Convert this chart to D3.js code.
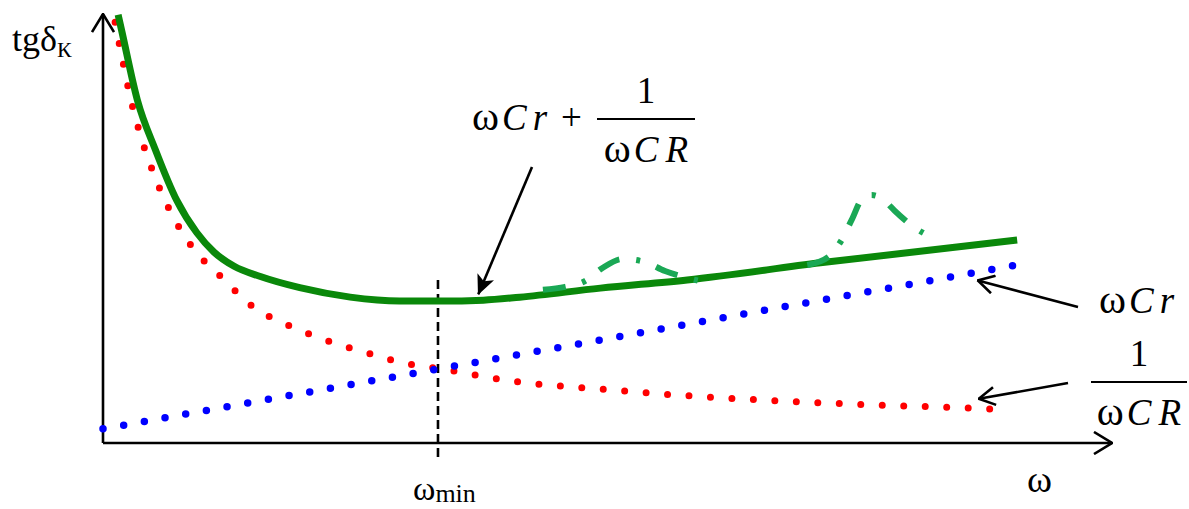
<!DOCTYPE html>
<html>
<head>
<meta charset="utf-8">
<script src="https://cdn.jsdelivr.net/npm/d3@7"></script>
<style>
  body { margin: 0; background: #fff; }
  text { font-family: "Liberation Serif", "DejaVu Serif", serif; fill: #000; }
</style>
</head>
<body>
<div id="chart"></div>
<script>
// Values (arbitrary units, both axes 0..10)
const redOmega = [0.12, 0.19, 0.27, 0.37, 0.50, 0.66, 0.89, 1.18, 1.49, 1.85, 2.23, 2.62, 2.99, 3.42, 4.03, 4.91, 5.80, 6.72, 7.62, 8.51, 8.96];
const redValue = [9.81, 8.97, 8.07, 7.18, 6.29, 5.43, 4.55, 3.85, 3.17, 2.73, 2.38, 2.10, 1.86, 1.70, 1.45, 1.26, 1.10, 0.98, 0.89, 0.82, 0.77];

const blueOmega = [0, 1, 2, 3, 4, 5, 6, 7, 8, 9.06];
const blueValue = [0.33, 0.75, 1.17, 1.59, 2.01, 2.43, 2.86, 3.28, 3.70, 4.15];

const sumOmega = [0.15, 0.19, 0.34, 0.52, 0.73, 0.93, 1.10, 1.30, 1.56, 1.95, 2.45, 2.94, 3.34, 3.77, 4.13, 4.93, 5.79, 7.11, 9.06];
const sumValue = [9.98, 9.56, 8.00, 6.83, 5.66, 4.90, 4.45, 4.12, 3.88, 3.62, 3.40, 3.31, 3.31, 3.33, 3.40, 3.61, 3.80, 4.20, 4.73];

const bump1Omega = [4.36, 4.58, 4.78, 4.95, 5.15, 5.37, 5.57, 5.79, 6.00];
const bump1Value = [3.57, 3.64, 3.78, 4.08, 4.29, 4.22, 4.01, 3.85, 3.73];

const bump2Omega = [6.98, 7.19, 7.32, 7.42, 7.53, 7.62, 7.70, 7.87, 8.05, 8.23];
const bump2Value = [4.15, 4.34, 4.73, 5.20, 5.71, 5.78, 5.73, 5.36, 5.01, 4.78];

const omegaMin = 3.32;

const width = 1189, height = 509;

const svg = d3.select("#chart")
    .append("svg")
    .attr("width", width)
    .attr("height", height);

const x = d3.scaleLinear().domain([0, 10]).range([103, 1112]);
const y = d3.scaleLinear().domain([0, 10]).range([443, 14]);

// Arrow markers
const defs = svg.append("defs");
defs.append("marker")
    .attr("id", "axisArrow")
    .attr("markerUnits", "userSpaceOnUse")
    .attr("viewBox", "0 0 20 24")
    .attr("refX", 19).attr("refY", 12)
    .attr("markerWidth", 20).attr("markerHeight", 24)
    .attr("orient", "auto")
    .append("path")
    .attr("d", "M1,1 L19,12 L1,23")
    .attr("fill", "none")
    .attr("stroke", "#000")
    .attr("stroke-width", 2.6);

defs.append("marker")
    .attr("id", "openArrow")
    .attr("markerUnits", "userSpaceOnUse")
    .attr("viewBox", "0 0 18 20")
    .attr("refX", 17).attr("refY", 10)
    .attr("markerWidth", 18).attr("markerHeight", 20)
    .attr("orient", "auto")
    .append("path")
    .attr("d", "M1,1 L17,10 L1,19")
    .attr("fill", "none")
    .attr("stroke", "#000")
    .attr("stroke-width", 2.6);

defs.append("marker")
    .attr("id", "solidArrow")
    .attr("markerUnits", "userSpaceOnUse")
    .attr("viewBox", "0 0 20 18")
    .attr("refX", 19).attr("refY", 9)
    .attr("markerWidth", 20).attr("markerHeight", 18)
    .attr("orient", "auto")
    .append("path")
    .attr("d", "M0,0 L20,9 L0,18 L5,9 Z")
    .attr("fill", "#000");

// Axes
svg.append("line")
    .attr("x1", x(0)).attr("y1", y(0))
    .attr("x2", x(0)).attr("y2", y(10))
    .attr("stroke", "#000").attr("stroke-width", 2.6)
    .attr("marker-end", "url(#axisArrow)");

svg.append("line")
    .attr("x1", x(0)).attr("y1", y(0))
    .attr("x2", x(10)).attr("y2", y(0))
    .attr("stroke", "#000").attr("stroke-width", 2.6)
    .attr("marker-end", "url(#axisArrow)");

// omega_min dashed marker
svg.append("line")
    .attr("x1", x(omegaMin)).attr("y1", y(3.80))
    .attr("x2", x(omegaMin)).attr("y2", y(-0.40))
    .attr("stroke", "#000").attr("stroke-width", 2.6)
    .attr("stroke-dasharray", "9 5");

const line = d3.line()
    .x(d => x(d[0]))
    .y(d => y(d[1]))
    .curve(d3.curveMonotoneX);

const zip = (a, b) => a.map((v, i) => [v, b[i]]);

// 1/(wCR) red dotted
svg.append("path")
    .datum(zip(redOmega, redValue))
    .attr("d", line)
    .attr("fill", "none")
    .attr("stroke", "#ff0000")
    .attr("stroke-width", 7)
    .attr("stroke-linecap", "round")
    .attr("stroke-dasharray", "0 21.5");

// wCr blue dotted
svg.append("path")
    .datum(zip(blueOmega, blueValue))
    .attr("d", line)
    .attr("fill", "none")
    .attr("stroke", "#0000ff")
    .attr("stroke-width", 7.5)
    .attr("stroke-linecap", "round")
    .attr("stroke-dasharray", "0 21");

// sum, solid green
svg.append("path")
    .datum(zip(sumOmega, sumValue))
    .attr("d", line)
    .attr("fill", "none")
    .attr("stroke", "#0a880a")
    .attr("stroke-width", 7);

// resonance bumps, dash-dot
[zip(bump1Omega, bump1Value), zip(bump2Omega, bump2Value)].forEach(b => {
    svg.append("path")
        .datum(b)
        .attr("d", line)
        .attr("fill", "none")
        .attr("stroke", "#1aa855")
        .attr("stroke-width", 6)
        .attr("stroke-dasharray", "23 17 4 17");
});

// Annotation arrows
svg.append("line")
    .attr("x1", 532).attr("y1", 167)
    .attr("x2", x(3.72)).attr("y2", y(3.47))
    .attr("stroke", "#000").attr("stroke-width", 2.6)
    .attr("marker-end", "url(#solidArrow)");

svg.append("line")
    .attr("x1", 1078).attr("y1", 307)
    .attr("x2", x(8.67)).attr("y2", y(3.79))
    .attr("stroke", "#000").attr("stroke-width", 2.6)
    .attr("marker-end", "url(#openArrow)");

svg.append("line")
    .attr("x1", 1068).attr("y1", 383)
    .attr("x2", x(8.68)).attr("y2", y(1.03))
    .attr("stroke", "#000").attr("stroke-width", 2.6)
    .attr("marker-end", "url(#openArrow)");

// Labels
const yLab = svg.append("text").attr("x", 12).attr("y", 51).style("font-size", "36px");
yLab.append("tspan").text("tgδ");
yLab.append("tspan").attr("dy", 6).style("font-size", "22px").text("К");

function wCr(g, xPos, yPos, size, tail) {
    const t = g.append("text").attr("x", xPos).attr("y", yPos).style("font-size", size + "px");
    t.append("tspan").attr("dx", 0).style("font-size", (size + 4) + "px").text("ω");
    t.append("tspan").attr("dx", 3).style("font-style", "italic").text("C");
    t.append("tspan").attr("dx", 6).style("font-style", "italic").text(tail);
    return t;
}

function fraction(g, cx, barY, halfW, size) {
    g.append("text").attr("x", cx).attr("y", barY - 16)
        .attr("text-anchor", "middle").style("font-size", size + "px").text("1");
    g.append("line")
        .attr("x1", cx - halfW).attr("x2", cx + halfW)
        .attr("y1", barY).attr("y2", barY)
        .attr("stroke", "#000").attr("stroke-width", 2);
    const t = g.append("text").attr("x", cx).attr("y", barY + 43)
        .attr("text-anchor", "middle").style("font-size", size + "px");
    t.append("tspan").style("font-size", (size + 4) + "px").text("ω");
    t.append("tspan").attr("dx", 3).style("font-style", "italic").text("C");
    t.append("tspan").attr("dx", 7).style("font-style", "italic").text("R");
}

// sum label
const sumLab = wCr(svg, 472, 130, 37, "r");
sumLab.append("tspan").attr("dx", 14).text("+");
fraction(svg, 646, 119, 49, 37);

// right side labels
wCr(svg, 1099, 313, 37, "r");
fraction(svg, 1139, 382, 48, 37);

// x axis labels
svg.append("text").attr("x", 1027).attr("y", 492).style("font-size", "38px").text("ω");
const wm = svg.append("text").attr("x", 413).attr("y", 500).style("font-size", "34px");
wm.append("tspan").text("ω");
wm.append("tspan").attr("dy", 2).style("font-size", "26px").text("min");
</script>
</body>
</html>
